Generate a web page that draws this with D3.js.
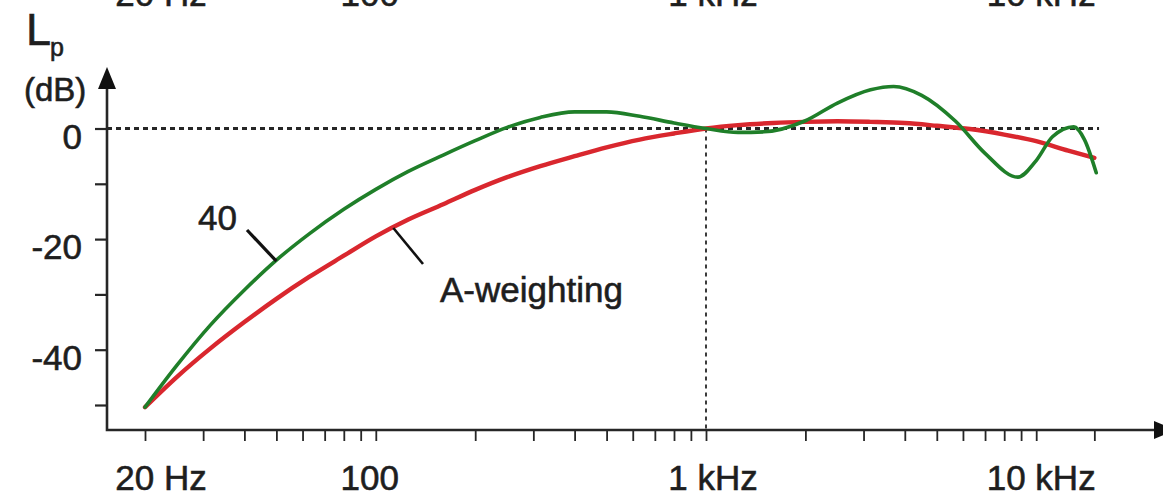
<!DOCTYPE html>
<html>
<head>
<meta charset="utf-8">
<script src="https://cdn.jsdelivr.net/npm/d3@7"></script>
<style>
  body { margin: 0; background: #fff; }
  svg { display: block; font-family: "Liberation Sans", Arial, Helvetica, sans-serif; }
  .lbl { fill: #1e1e1e; stroke: #1e1e1e; stroke-width: 0.6px; font-size: 35px; }
</style>
</head>
<body>
<svg width="1163" height="493"></svg>
<script>
  // frequencies (Hz) of the sampled points
  var freqA = [20, 25, 31.5, 40, 50, 63, 80, 100, 125, 160, 200, 250, 315, 400, 500, 630, 800,
    1000, 1250, 1600, 2000, 2500, 3150, 4000, 5000, 6300, 8000, 10000, 12500, 15000];
  // A-weighting (dB)
  var aWeighting = [-50.4, -44.9, -39.8, -35.0, -30.8, -26.8, -23.0, -19.5, -16.5, -13.7, -11.1, -8.8, -6.8, -5.0, -3.4, -2.0, -0.9,
    0, 0.6, 1.0, 1.2, 1.3, 1.2, 1.0, 0.5, -0.1, -1.1, -2.3, -4.0, -5.3];

  var freq40 = [20, 25, 31.5, 40, 50, 63, 80, 100, 125, 160, 200, 250, 315, 400, 500, 630, 800,
    1000, 1250, 1500, 2000, 2500, 3150, 3700, 4500, 5700, 7000, 8800, 10000, 11200, 13000, 14000, 15200];
  // 40 phon curve relative to 1 kHz (dB)
  var curve40 = [-50.4, -42.8, -35.6, -29.2, -23.8, -19.0, -14.6, -11.0, -7.8, -4.8, -2.2, 0.2, 2.0, 3.0, 3.0, 2.2, 1.0,
    0, -0.7, -0.6, 1.4, 4.6, 7.0, 7.6, 6.0, 1.3, -4.5, -8.8, -5.8, -1.5, 0.3, -2.0, -8.0];

  var xMinorTicks = [20, 30, 40, 50, 60, 70, 80, 90, 100, 200, 300, 400, 500, 600, 700, 800, 900,
    1000, 2000, 3000, 4000, 5000, 6000, 7000, 8000, 9000, 10000, 15000];
  var xLabelFreqs = [20, 100, 1000, 10000];
  var xLabels = ['20 Hz', '100', '1 kHz', '10 kHz'];
  var yTicks = [-50, -40, -30, -20, -10, 0];
  var yLabelValues = [0, -20, -40];

  var svg = d3.select('svg');

  var x = d3.scaleLog().domain([20, 1000]).range([145, 706]);
  var y = d3.scaleLinear().domain([-50, 0]).range([405, 128.5]);

  var axisY0 = 430, axisX0 = 107;
  var ink = '#262626';
  var labelShift = [16, -6, 7, 5];

  // cut-off labels of the figure above
  svg.selectAll('.toplbl').data(xLabelFreqs).enter().append('text')
    .attr('class', 'lbl')
    .attr('x', function (d, i) { return x(d) + labelShift[i]; })
    .attr('y', 6)
    .attr('text-anchor', 'middle')
    .text(function (d, i) { return xLabels[i]; });

  // zero reference line
  svg.append('line')
    .attr('x1', axisX0).attr('x2', x(15500))
    .attr('y1', y(0)).attr('y2', y(0))
    .attr('stroke', ink).attr('stroke-width', 3)
    .attr('stroke-dasharray', '5,4');

  // 1 kHz marker
  svg.append('line')
    .attr('x1', x(1000)).attr('x2', x(1000))
    .attr('y1', y(0)).attr('y2', axisY0)
    .attr('stroke', ink).attr('stroke-width', 1.8)
    .attr('stroke-dasharray', '4,4');

  // x axis ticks
  var xAxis = svg.append('g')
    .attr('transform', 'translate(0,' + axisY0 + ')')
    .call(d3.axisBottom(x).tickValues(xMinorTicks).tickSize(11).tickFormat(''));
  xAxis.select('.domain').remove();
  xAxis.selectAll('line').attr('stroke', ink).attr('stroke-width', 1.8);

  // y axis ticks
  var yAxis = svg.append('g')
    .attr('transform', 'translate(' + axisX0 + ',0)')
    .call(d3.axisLeft(y).tickValues(yTicks).tickSize(12).tickFormat(''));
  yAxis.select('.domain').remove();
  yAxis.selectAll('line').attr('stroke', ink).attr('stroke-width', 2.2);

  // axis lines with arrows
  svg.append('path')
    .attr('d', 'M' + axisX0 + ',84 V' + axisY0 + ' H1160')
    .attr('fill', 'none').attr('stroke', ink).attr('stroke-width', 2.6);
  svg.append('path')
    .attr('d', 'M' + axisX0 + ',67 L' + (axisX0 - 9) + ',89 L' + (axisX0 + 9) + ',89 Z')
    .attr('fill', '#111');
  svg.append('path')
    .attr('d', 'M1176,' + axisY0 + ' L1154,' + (axisY0 - 9) + ' L1154,' + (axisY0 + 9) + ' Z')
    .attr('fill', '#111');

  // tick labels
  svg.selectAll('.ylbl').data(yLabelValues).enter().append('text')
    .attr('class', 'lbl')
    .attr('x', 82)
    .attr('y', function (d) { return y(d) + 20; })
    .attr('text-anchor', 'end')
    .text(function (d) { return d; });

  svg.selectAll('.xlbl').data(xLabelFreqs).enter().append('text')
    .attr('class', 'lbl')
    .attr('x', function (d, i) { return x(d) + labelShift[i]; })
    .attr('y', 490)
    .attr('text-anchor', 'middle')
    .text(function (d, i) { return xLabels[i]; });

  // axis title
  svg.append('text').attr('class', 'lbl').attr('x', 26).attr('y', 45).style('font-size', '45px').text('L');
  svg.append('text').attr('class', 'lbl').attr('x', 50).attr('y', 56).style('font-size', '25px').text('p');
  svg.append('text').attr('class', 'lbl').attr('x', 24).attr('y', 101).style('font-size', '33px').text('(dB)');

  // curves
  var line = d3.line()
    .x(function (d) { return x(d[0]); })
    .y(function (d) { return y(d[1]); })
    .curve(d3.curveMonotoneX);

  svg.append('path')
    .datum(d3.zip(freqA, aWeighting))
    .attr('d', line)
    .attr('fill', 'none').attr('stroke', '#d9272e').attr('stroke-width', 4.4)
    .attr('stroke-linecap', 'round');

  svg.append('path')
    .datum(d3.zip(freq40, curve40))
    .attr('d', line)
    .attr('fill', 'none').attr('stroke', '#1f7f29').attr('stroke-width', 3.6)
    .attr('stroke-linecap', 'round');

  // curve annotations
  svg.append('text').attr('class', 'lbl').attr('x', 198).attr('y', 230).text('40');
  svg.append('line')
    .attr('x1', 247).attr('y1', 230).attr('x2', x(50)).attr('y2', y(-24))
    .attr('stroke', '#111').attr('stroke-width', 3.2);

  svg.append('text').attr('class', 'lbl').attr('x', 440).attr('y', 302).text('A-weighting');
  svg.append('line')
    .attr('x1', x(113)).attr('y1', y(-18)).attr('x2', 423).attr('y2', 264)
    .attr('stroke', '#111').attr('stroke-width', 2.6);
</script>
</body>
</html>
